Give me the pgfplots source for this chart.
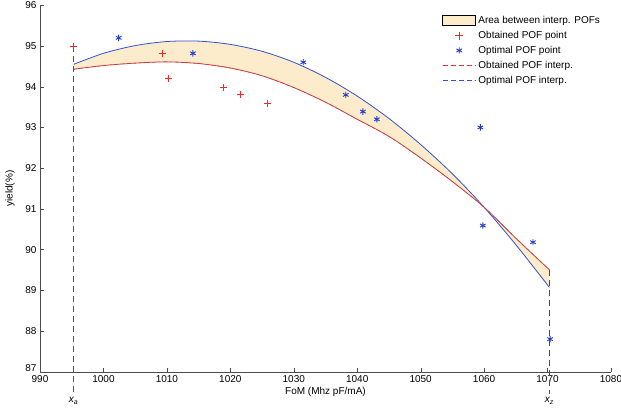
\documentclass[border=0pt]{standalone}
\usepackage{fontspec}
\setmainfont{Liberation Sans}
\usepackage{pgfplots}
\pgfplotsset{compat=1.18}
\usepgfplotslibrary{fillbetween}
\definecolor{cream}{RGB}{252,236,204}
\definecolor{mred}{RGB}{245,40,40}
\definecolor{mblue}{RGB}{35,60,200}
\definecolor{lred}{RGB}{235,50,50}
\definecolor{lblue}{RGB}{50,80,215}
\definecolor{xared}{RGB}{210,30,30}
\pgfplotsset{
 legarea/.style={legend image code/.code={\draw[fill=cream,draw=black,line width=0.6pt] (0pt,-5pt) rectangle (33pt,5pt);}},
 legred/.style={legend image code/.code={\draw[draw=mred,line width=1.2pt] (12.5pt,0pt) -- (20.5pt,0pt) (16.5pt,-4pt) -- (16.5pt,4pt);}},
 legblue/.style={legend image code/.code={\draw[mblue,line width=0.9pt] plot[mark=asterisk,mark size=3.2pt,only marks] coordinates {(16.5pt,0pt)};}},
 legrline/.style={legend image code/.code={\draw[draw=lred,line width=1.4pt,dash pattern=on 5pt off 3pt] (0pt,0pt) -- (33pt,0pt);}},
 legbline/.style={legend image code/.code={\draw[draw=lblue,line width=1.2pt,dash pattern=on 5pt off 3pt] (0pt,0pt) -- (33pt,0pt);}},
}
\pgfplotstableread{
x y
995.3 94.55
1000 94.82
1005 95.01
1010 95.11
1015 95.12
1020 95.04
1025 94.87
1030 94.60
1035 94.23
1040 93.77
1045 93.22
1050 92.58
1055 91.86
1060 91.04
1065 90.12
1070.3 89.07
}\optcurve
\pgfplotstableread{
x y
995.3 94.43
1000 94.52
1005 94.58
1010 94.61
1015 94.57
1020 94.46
1025 94.27
1030 93.98
1035 93.62
1040 93.20
1045 92.78
1050 92.25
1055 91.67
1060 91.04
1065 90.28
1070.3 89.50
}\obtcurve
\begin{document}
\begin{tikzpicture}
\begin{axis}[
 scale only axis, width=571pt, height=366.4pt,
 xmin=990, xmax=1080, ymin=87, ymax=96,
 axis lines=left, axis line style={-, draw=black!70},
 xtick={990,1000,...,1080}, ytick={88,89,...,96},
 extra y ticks={87}, extra y tick style={yticklabel style={yshift=4pt}},
 tick align=inside, major tick length=4pt, tick style={black!70},
 ticklabel style={font=\fontsize{10}{11}\selectfont},
 /pgf/number format/assume math mode=true,
 /pgf/number format/1000 sep={},
 xlabel={FoM (Mhz pF/mA)}, ylabel={yield(\%)},
 label style={font=\fontsize{10}{11}\selectfont},
 xlabel style={at={(axis description cs:0.5,-0.0546)}, anchor=center},
 ylabel style={at={(axis description cs:-0.0525,0.5)}, anchor=center},
 clip=false,
 legend cell align=left,
 legend style={draw=none, fill=white, at={(rel axis cs:0.702,0.979)}, anchor=north west,
   font=\fontsize{10}{11}\selectfont, inner sep=1pt, row sep=2.2pt},
]
\addlegendimage{legarea}
\addlegendentry{Area between interp. POFs}
\addlegendimage{legred}
\addlegendentry{Obtained POF point}
\addlegendimage{legblue}
\addlegendentry{Optimal POF point}
\addlegendimage{legrline}
\addlegendentry{Obtained POF interp.}
\addlegendimage{legbline}
\addlegendentry{Optimal POF interp.}

% interpolated curves
\addplot[name path=opt, draw=none, smooth, forget plot] table {\optcurve};
\addplot[name path=obt, draw=none, smooth, forget plot] table {\obtcurve};
\addplot[cream, forget plot] fill between[of=opt and obt];
\addplot[lblue, line width=0.8pt, smooth, forget plot] table {\optcurve};
\addplot[lred, line width=0.8pt, smooth, forget plot] table {\obtcurve};
\addplot[black!60, line width=0.4pt, dash pattern=on 3pt off 3pt, smooth, forget plot] table {\obtcurve};

% boundary lines
\addplot[xared, line width=1pt, dash pattern=on 6pt off 4pt, forget plot] coordinates {(995.3,95.0) (995.3,86.45)};
\addplot[black!70, line width=0.7pt, dash pattern=on 6pt off 4pt, forget plot] coordinates {(1070.3,89.5) (1070.3,86.45)};

% points
\addplot[only marks, mark=+, mred, mark size=3.5pt, mark options={line width=1pt, draw=mred}, forget plot] coordinates {
 (995.3,95.0) (1009.3,94.82) (1010.3,94.2) (1019.0,93.98) (1021.6,93.8) (1025.9,93.6)};
\addplot[only marks, mark=asterisk, mblue, mark size=3.2pt, mark options={line width=0.9pt}, forget plot] coordinates {
 (1002.4,95.2) (1014.1,94.82) (1031.5,94.6) (1038.2,93.8) (1040.9,93.39) (1043.1,93.2)
 (1059.4,93.0) (1059.8,90.59) (1067.7,90.18) (1070.4,87.8)};

\node[font=\fontsize{10}{11}\selectfont\itshape] at (axis cs:995.3,86.28) {x\textsubscript{a}};
\node[font=\fontsize{10}{11}\selectfont\itshape] at (axis cs:1070.3,86.28) {x\textsubscript{z}};
\end{axis}
\pgfresetboundingbox
\useasboundingbox (-40pt,-38.3pt) rectangle (581pt,371.7pt);
\end{tikzpicture}
\end{document}
